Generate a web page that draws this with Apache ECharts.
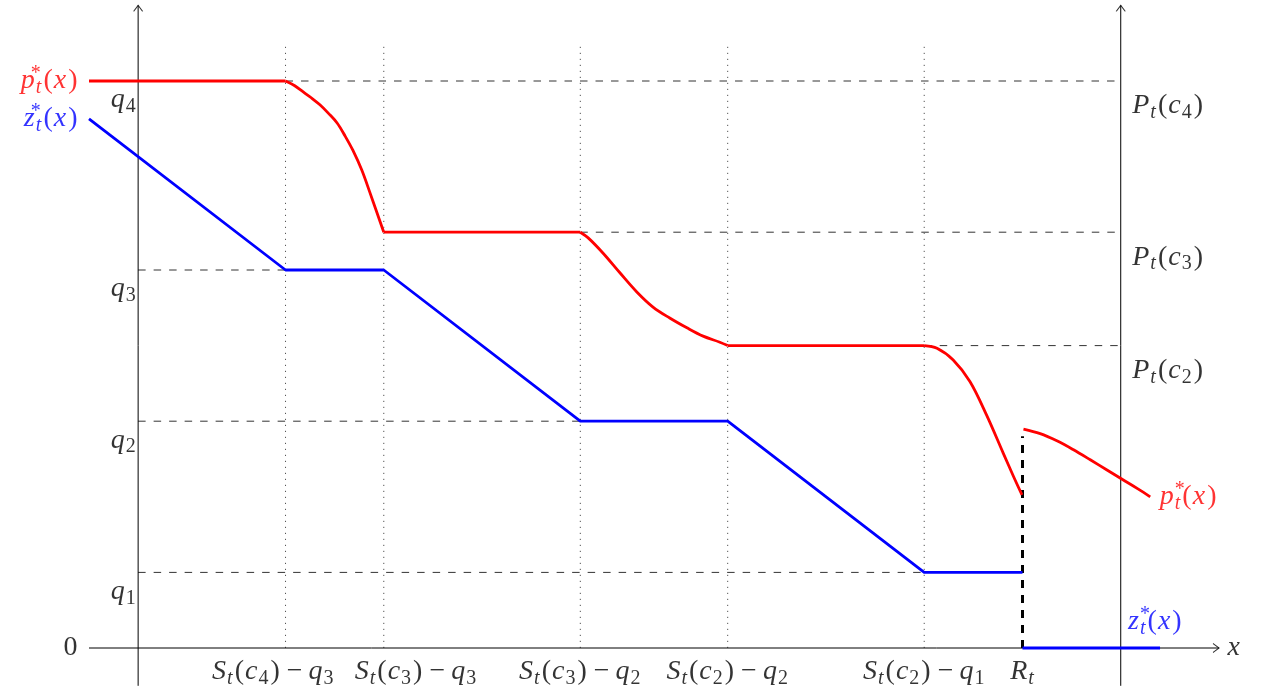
<!DOCTYPE html>
<html>
<head>
<meta charset="utf-8">
<script src="https://cdn.jsdelivr.net/npm/echarts@6/dist/echarts.min.js"></script>
<style>
  html, body { margin: 0; padding: 0; background: #fff; }
  #chart { width: 1266px; height: 687px; }
</style>
</head>
<body>
<div id="chart"></div>
<script>
// Price p*_t(x) and order-up-to z*_t(x) as functions of inventory x.

// z*_t(x): piecewise linear, then zero beyond R_t
const zMain = [[-1, 14], [3, 10], [5, 10], [9, 6], [12, 6], [16, 2], [18, 2]];
const zTail = [[18, 0], [20.8, 0]];

// p*_t(x): plateaus at P_t(c_k) joined by smooth drops
const pLeftStart = -1;
const pDrop1 = [[3, 15], [3.18, 14.88], [3.36, 14.71], [3.53, 14.55], [3.70, 14.37],
  [3.87, 14.15], [4.05, 13.89], [4.21, 13.55], [4.37, 13.17], [4.55, 12.65],
  [4.72, 12.04], [4.86, 11.52], [5, 11]];
const pDrop2 = [[9, 11], [9.16, 10.85], [9.46, 10.45], [9.81, 9.92], [10.15, 9.42],
  [10.48, 9.02], [10.82, 8.73], [11.17, 8.47], [11.5, 8.25], [11.84, 8.09], [12, 8]];
const pDrop3 = [[16, 8], [16.26, 7.93], [16.59, 7.62], [16.93, 7.05], [17.27, 6.16],
  [17.61, 5.15], [17.82, 4.53], [17.99, 4.05]];
const pTail = [[18.02, 5.79], [18.36, 5.67], [18.7, 5.48], [19.03, 5.25], [19.38, 4.98],
  [19.72, 4.71], [20.02, 4.47], [20.35, 4.21], [20.6, 4.0]];

// levels
const qLevels = [2, 6, 10, 15];          // q1 .. q4
const qNames = ['1', '2', '3', '4'];
const pLevels = [15, 11, 8];             // P_t(c4), P_t(c3), P_t(c2)
const pNames = ['4', '3', '2'];

// breakpoints on the x axis
const breakX = [3, 5, 9, 12, 16, 18];
const breakLabels = [
  '{m|S}{sub|t}{r|(}{m|c}{subn|4}{r|)}{op|−}{m|q}{subn|3}',
  '{m|S}{sub|t}{r|(}{m|c}{subn|3}{r|)}{op|−}{m|q}{subn|3}',
  '{m|S}{sub|t}{r|(}{m|c}{subn|3}{r|)}{op|−}{m|q}{subn|2}',
  '{m|S}{sub|t}{r|(}{m|c}{subn|2}{r|)}{op|−}{m|q}{subn|2}',
  '{m|S}{sub|t}{r|(}{m|c}{subn|2}{r|)}{op|−}{m|q}{subn|1}',
  '{m|R}{sub|t}'
];
// the two crowded labels are pushed apart: [align, x offset]
const breakLabelPlace = [['right', 49], ['left', -29], ['center', 0], ['center', 0], ['center', 0], ['center', 0]];

// dashed guides: [level, from x, to x]
const hGuides = [[15, 3, 20], [11, 9, 20], [8, 16, 20], [10, 0, 3], [6, 0, 9], [2, 0, 16]];
const vDotted = [3, 5, 9, 12, 16];
const dotTop = 16;
const jumpX = 18, jumpTop = 5.6;

const xMin = -1, xMax = 22, yMin = -1, yMax = 17;
const rightAxisX = 20;

const RED = '#ff0000', BLUE = '#0000ff';
const FONT = '"Liberation Serif", serif';
const FS = 28, FSS = 20, LH = 34;

function rich(color) {
  return {
    m:    { fontFamily: FONT, fontStyle: 'italic', fontSize: FS, color, lineHeight: LH, verticalAlign: 'middle', padding: [0, 1, 0, 0] },
    r:    { fontFamily: FONT, fontSize: FS, color, lineHeight: LH, verticalAlign: 'middle', padding: [0, 1, 0, 1] },
    op:   { fontFamily: FONT, fontSize: FS, color, lineHeight: LH, verticalAlign: 'middle', padding: [0, 6, 0, 6] },
    sub:  { fontFamily: FONT, fontStyle: 'italic', fontSize: FSS, color, lineHeight: 20, verticalAlign: 'bottom', padding: [0, 1, 0, 0] },
    subn: { fontFamily: FONT, fontSize: FSS, color, lineHeight: 20, verticalAlign: 'bottom', padding: [0, 1, 0, 0] },
    sup:  { fontFamily: FONT, fontSize: FSS, color, lineHeight: 20, verticalAlign: 'top', align: 'left', width: 0.1 }
  };
}

const pLabel = '{m|p}{sup|*}{sub|t}{r|(}{m|x}{r|)}';
const zLabel = '{m|z}{sup|*}{sub|t}{r|(}{m|x}{r|)}';

function lineSeries(data, color, width, type, z, smooth) {
  return {
    type: 'line', data, symbol: 'none', silent: true, z: z || 2, smooth: smooth || false,
    lineStyle: { color, width, type: type || 'solid', cap: 'butt', join: 'round' }
  };
}

function labelSeries(points, opts) {
  return {
    type: 'scatter', symbolSize: 1, silent: true, z: 10,
    itemStyle: { color: 'transparent' },
    data: points.map(p => ({
      value: p.value,
      label: Object.assign({
        show: true, formatter: p.text, rich: rich(p.color || '#000')
      }, opts, p.label || {})
    }))
  };
}

const series = [];

// axes
series.push(lineSeries([[xMin, 0], [xMax, 0]], '#000', 1, 'solid', 3));
series.push(lineSeries([[0, yMin], [0, yMax]], '#000', 1, 'solid', 3));
series.push(lineSeries([[rightAxisX, yMin], [rightAxisX, yMax]], '#000', 1, 'solid', 3));
// arrow tips
series.push({
  type: 'scatter', silent: true, z: 3,
  symbol: 'path://M0,8 L5,0 L10,8', symbolSize: [9, 6], symbolOffset: [0, 3],
  itemStyle: { color: 'none', borderColor: '#000', borderWidth: 1 },
  data: [[0, yMax], [rightAxisX, yMax]]
});
series.push({
  type: 'scatter', silent: true, z: 3,
  symbol: 'path://M0,0 L8,5 L0,10', symbolSize: [6, 9], symbolOffset: [-3, 0],
  itemStyle: { color: 'none', borderColor: '#000', borderWidth: 1 },
  data: [[xMax, 0]]
});

// guides
hGuides.forEach(g => series.push(lineSeries([[g[1], g[0]], [g[2], g[0]]], '#333', 1, [7.5, 8], 1)));
vDotted.forEach(x => series.push(lineSeries([[x, 0], [x, dotTop]], '#555', 1, [1.2, 4.8], 1)));
series.push(lineSeries([[jumpX, 0], [jumpX, jumpTop]], '#000', 3, [8, 7], 4));

// z*_t(x)
series.push(lineSeries(zMain, BLUE, 2.8, 'solid', 5));
series.push(lineSeries(zTail, BLUE, 2.8, 'solid', 5));

// p*_t(x): plateaus, then the drops drawn smooth
const drops = [pDrop1, pDrop2, pDrop3];
series.push(lineSeries([[pLeftStart, pDrop1[0][1]], pDrop1[0]], RED, 2.8, 'solid', 5));
for (let i = 0; i < drops.length - 1; i++) {
  const a = drops[i][drops[i].length - 1], b = drops[i + 1][0];
  series.push(lineSeries([a, b], RED, 2.8, 'solid', 5));
}
drops.forEach(d => series.push(lineSeries(d, RED, 2.8, 'solid', 5, 0.35)));
series.push(lineSeries(pTail, RED, 2.8, 'solid', 5, 0.35));

// text
series.push(labelSeries([
  { value: [xMin, pDrop1[0][1]], text: pLabel, color: RED },
  { value: [xMin, zMain[0][1]], text: zLabel, color: BLUE },
  { value: [xMin, 0], text: '{r|0}' }
], { position: 'left', distance: 10 }));

series.push(labelSeries(qLevels.map((q, i) => ({
  value: [0, q], text: '{m|q}{subn|' + qNames[i] + '}'
})), { position: 'left', distance: 1, offset: [0, 19] }));

series.push(labelSeries(pLevels.map((p, i) => ({
  value: [rightAxisX, p], text: '{m|P}{sub|t}{r|(}{m|c}{subn|' + pNames[i] + '}{r|)}'
})), { position: 'right', distance: 11, offset: [0, 25] }));

series.push(labelSeries([
  { value: pTail[pTail.length - 1], text: pLabel, color: RED }
], { position: 'right', distance: 9 }));

series.push(labelSeries([
  { value: zTail[zTail.length - 1], text: zLabel, color: BLUE }
], { position: 'top', distance: 9, align: 'left', offset: [-32, 0] }));

series.push(labelSeries([
  { value: [xMax, 0], text: '{m|x}' }
], { position: 'right', distance: 8 }));

series.push(labelSeries(breakX.map((x, i) => ({
  value: [x, 0], text: breakLabels[i],
  label: { align: breakLabelPlace[i][0], offset: [breakLabelPlace[i][1], 0] }
})), { position: 'bottom', distance: 6 }));

const chart = echarts.init(document.getElementById('chart'), null, { renderer: 'canvas' });
chart.setOption({
  animation: false,
  backgroundColor: '#fff',
  grid: { left: 89, right: 47, top: 5.4, bottom: 1.2 },
  xAxis: { type: 'value', min: xMin, max: xMax, show: false },
  yAxis: { type: 'value', min: yMin, max: yMax, show: false },
  series
});
</script>
</body>
</html>
